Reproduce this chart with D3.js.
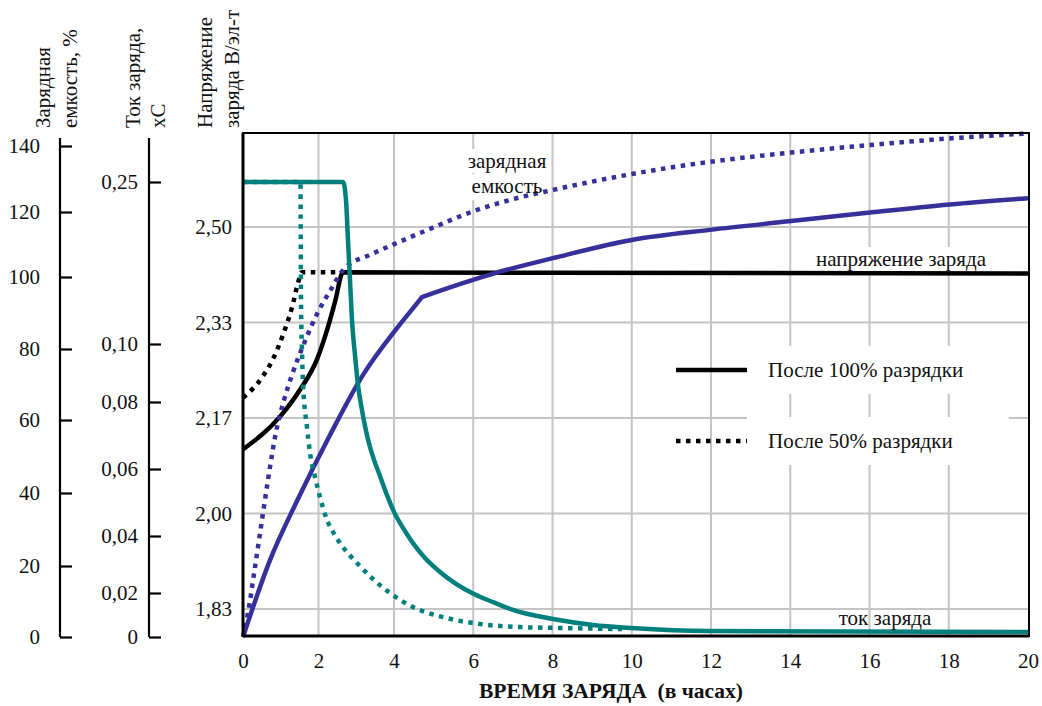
<!DOCTYPE html>
<html>
<head>
<meta charset="utf-8">
<script src="https://cdn.jsdelivr.net/npm/d3@7"></script>
<style>
  body { margin: 0; background: #fff; }
  text { font-family: "Liberation Serif", "Tinos", "Times New Roman", "DejaVu Serif", serif; }
</style>
</head>
<body>
<div id="viz"></div>
<script>
//Datos
const hourTicks = [0, 2, 4, 6, 8, 10, 12, 14, 16, 18, 20];
const voltTicks = [1.8333, 2.0, 2.1667, 2.3333, 2.5];
const voltLabels = ['1,83', '2,00', '2,17', '2,33', '2,50'];
const capTicks = [0, 20, 40, 60, 80, 100, 120, 140];
const curTicks = [0, 0.02, 0.04, 0.06, 0.08, 0.10, 0.25];
const curLabels = ['0', '0,02', '0,04', '0,06', '0,08', '0,10', '0,25'];

// [часы, В/эл]
const voltage100 = [[0, 2.112], [0.98, 2.169], [1.51, 2.216], [1.96, 2.269], [2.23, 2.321], [2.44, 2.370], [2.65, 2.421], [8, 2.420], [20, 2.419]];
const voltage50 = [[0, 2.202], [0.50, 2.237], [0.79, 2.269], [1.06, 2.312], [1.30, 2.360], [1.46, 2.403], [1.56, 2.421], [2.65, 2.421]];
// [часы, %]
const capacity100 = [[0, 0], [0.715, 21.6], [1.43, 37.8], [2.305, 55.9], [3.18, 72.7], [4.076, 85.8], [4.656, 93.7], [4.707, 94.4], [4.757, 94.6], [5.994, 99.2], [6.55, 101.2], [8.01, 105.8], [10, 111.4], [11.97, 114.5], [14.02, 117.2], [16.01, 119.85], [18.02, 122.3], [20, 124.2]];
const capacity50 = [[0, 0], [0.132, 6.8], [0.318, 19.7], [0.53, 34.5], [0.662, 43.6], [0.874, 56.7], [1.086, 65.6], [1.298, 72.7], [1.642, 82.2], [1.96, 89.7], [2.305, 96.1], [2.702, 102.8], [3.364, 106.8], [4.076, 110.5], [4.908, 114.8], [6.019, 120.3], [7.003, 123.9], [8.013, 126.7], [10, 131.5], [11.97, 135.2], [14.02, 138.0], [16.01, 140.3], [18.02, 142.3], [20, 143.8]];
// [часы, xC]
const current100 = [[0, 0.25], [2.65, 0.25], [2.728, 0.2333], [2.781, 0.1963], [2.834, 0.1593], [2.887, 0.1222], [2.967, 0.0962], [3.046, 0.0859], [3.152, 0.0776], [3.285, 0.0701], [3.444, 0.0636], [3.629, 0.0579], [3.815, 0.0522], [4.0, 0.0472], [4.227, 0.0424], [4.479, 0.0375], [4.782, 0.0323], [5.161, 0.0274], [5.565, 0.0232], [6.019, 0.0195], [6.549, 0.0155], [7.003, 0.0123], [8.013, 0.0082], [9.022, 0.0055], [10, 0.0041], [11.97, 0.0027], [20, 0.0023]];
const current50 = [[0, 0.25], [1.523, 0.25], [1.536, 0.1407], [1.558, 0.10], [1.589, 0.0866], [1.695, 0.0725], [1.775, 0.0648], [1.907, 0.0576], [2.04, 0.0516], [2.225, 0.0448], [2.384, 0.0412], [2.57, 0.0375], [3.02, 0.0305], [3.444, 0.0249], [3.894, 0.0200], [4.479, 0.0136], [5.338, 0.0086], [6.17, 0.0059], [7.18, 0.0045], [8.189, 0.0041], [9.754, 0.0036]];

//Colores
const COLOR_TEAL = '#00807c',
  COLOR_BLUE = '#35309a',
  COLOR_GRID = '#c4c4c4';

const FONT = 21;

let margin = {top: 133, right: 13, bottom: 70, left: 243},
  width = 1042 - margin.left - margin.right,
  height = 706 - margin.top - margin.bottom;

let svg = d3.select('#viz')
  .append('svg')
    .attr('width', 1042)
    .attr('height', 706);

let g = svg.append('g')
  .attr('transform', 'translate(' + margin.left + ',' + margin.top + ')');

// Escalas (el eje X del original está algo comprimido entre 0 y 4 h)
let x = d3.scaleLinear().domain([0, 4, 20]).range([0, 151, width - 1]);
let yVolt = d3.scaleLinear().domain([1.8333, 2.5]).range([476, 94]);
let yCap = d3.scaleLinear().domain(capTicks).range([504, 433, 360, 287, 216, 144, 79, 13]);
let yCur = d3.scaleLinear().domain(curTicks).range([504, 460, 403, 336, 269, 211, 49]);

// Rejilla
g.append('g')
  .selectAll('line')
  .data(hourTicks.slice(1, -1))
  .enter().append('line')
    .attr('x1', d => x(d)).attr('x2', d => x(d))
    .attr('y1', 0).attr('y2', height)
    .attr('stroke', COLOR_GRID).attr('stroke-width', 2);

g.append('g')
  .selectAll('line')
  .data(voltTicks)
  .enter().append('line')
    .attr('x1', 0).attr('x2', width)
    .attr('y1', d => yVolt(d)).attr('y2', d => yVolt(d))
    .attr('stroke', COLOR_GRID).attr('stroke-width', 2);

// Fondo blanco de las etiquetas
let boxLayer = g.append('g');

// Eje X
let xAxis = g.append('g')
  .attr('transform', 'translate(0,' + height + ')')
  .call(d3.axisBottom(x).tickValues(hourTicks).tickSize(0).tickPadding(17).tickFormat(d3.format('d')));
xAxis.select('.domain').remove();

// Eje de tensión
let vAxis = g.append('g')
  .call(d3.axisLeft(yVolt).tickValues(voltTicks).tickSize(0).tickPadding(11).tickFormat((d, i) => voltLabels[i]));
vAxis.select('.domain').remove();

// Ejes exteriores: capacidad y corriente
function outerAxis(xPos, scale, ticks, fmt, pad) {
  let a = svg.append('g')
    .attr('transform', 'translate(' + xPos + ',' + margin.top + ')')
    .call(d3.axisLeft(scale).tickValues(ticks).tickSizeInner(-12).tickSizeOuter(0).tickPadding(pad).tickFormat(fmt));
  a.select('.domain').remove();
  a.append('line')
    .attr('x1', 0).attr('x2', 0).attr('y1', 5).attr('y2', scale(0))
    .attr('stroke', '#000').attr('stroke-width', 2.2);
  a.selectAll('.tick line').attr('stroke-width', 2.2);
  return a;
}
outerAxis(60, yCap, capTicks, d3.format('d'), 20);
outerAxis(149, yCur, curTicks, (d, i) => curLabels[i], 11);

svg.selectAll('g').attr('font-family', null).attr('font-size', null);
svg.selectAll('.tick text')
  .style('font-size', FONT + 'px')
  .attr('fill', '#111');

// Curvas
let lineVolt = d3.line().x(d => x(d[0])).y(d => yVolt(d[1])).curve(d3.curveMonotoneX);
let lineCap = d3.line().x(d => x(d[0])).y(d => yCap(d[1])).curve(d3.curveMonotoneX);
let lineCur = d3.line().x(d => x(d[0])).y(d => yCur(d[1])).curve(d3.curveMonotoneX);

let curves = g.append('g').attr('fill', 'none');
const DOTS = '4.5,5.5';

curves.append('path').datum(voltage50).attr('d', lineVolt)
  .attr('stroke', '#000').attr('stroke-width', 4.5).attr('stroke-dasharray', DOTS);
curves.append('path').datum(voltage100).attr('d', lineVolt)
  .attr('stroke', '#000').attr('stroke-width', 4.5);
curves.append('path').datum(capacity100).attr('d', lineCap)
  .attr('stroke', COLOR_BLUE).attr('stroke-width', 4.5);
curves.append('path').datum(capacity50).attr('d', lineCap)
  .attr('stroke', COLOR_BLUE).attr('stroke-width', 4.5).attr('stroke-dasharray', DOTS);
curves.append('path').datum(current50).attr('d', lineCur)
  .attr('stroke', COLOR_TEAL).attr('stroke-width', 4.5).attr('stroke-dasharray', DOTS);
curves.append('path').datum(current100).attr('d', lineCur)
  .attr('stroke', COLOR_TEAL).attr('stroke-width', 4.5);

// Marco
g.append('rect')
  .attr('width', width).attr('height', height)
  .attr('fill', 'none').attr('stroke', '#000').attr('stroke-width', 2);
g.append('line').attr('x1', 0).attr('x2', 0).attr('y1', 0).attr('y2', height)
  .attr('stroke', '#000').attr('stroke-width', 3);
g.append('line').attr('x1', 0).attr('x2', width).attr('y1', height).attr('y2', height)
  .attr('stroke', '#000').attr('stroke-width', 3);

// Etiquetas dentro del gráfico
function label(txt, px, py, anchor, pad) {
  let t = svg.append('text')
    .attr('x', px).attr('y', py)
    .attr('text-anchor', anchor)
    .style('font-size', FONT + 'px')
    .attr('fill', '#111')
    .text(txt);
  if (pad) {
    let b = t.node().getBBox();
    boxLayer.append('rect')
      .attr('x', b.x - margin.left - pad[0]).attr('y', b.y - margin.top - pad[1])
      .attr('width', b.width + pad[0] + pad[2]).attr('height', b.height + pad[1] + pad[3])
      .attr('fill', '#fff');
  }
  return t;
}
label('зарядная', 507, 168, 'middle', [2, 0, 2, 0]);
label('емкость', 507, 193, 'middle', [2, 0, 2, 2]);
label('напряжение заряда', 901, 266, 'middle', [2, 0, 2, 0]);
label('ток заряда', 885, 625, 'middle');
label('После 100% разрядки', 768, 377, 'start', [21, 12, 24, 12]);
label('После 50% разрядки', 768, 448, 'start', [21, 12, 56, 12]);

// Leyenda
svg.append('line').attr('x1', 676).attr('x2', 747).attr('y1', 370).attr('y2', 370)
  .attr('stroke', '#000').attr('stroke-width', 4.5);
svg.append('line').attr('x1', 676).attr('x2', 747).attr('y1', 441).attr('y2', 441)
  .attr('stroke', '#000').attr('stroke-width', 4.5).attr('stroke-dasharray', DOTS);

// Títulos de ejes verticales
[['Зарядная', 43], ['емкость, %', 70], ['Ток заряда,', 133], ['xC', 158], ['Напряжение', 205], ['заряда В/эл-т', 232]]
  .forEach(function(d) {
    svg.append('text')
      .attr('transform', 'translate(' + d[1] + ',128) rotate(-90)')
      .attr('dy', '0.35em')
      .style('font-size', FONT + 'px')
      .attr('fill', '#111')
      .text(d[0]);
  });

// Título eje X
svg.append('text')
  .attr('x', 611).attr('y', 698)
  .attr('text-anchor', 'middle')
  .style('font-size', '21.5px')
  .style('font-weight', 'bold')
  .style('white-space', 'pre')
  .attr('fill', '#111')
  .text('ВРЕМЯ ЗАРЯДА  (в часах)');
</script>
</body>
</html>
